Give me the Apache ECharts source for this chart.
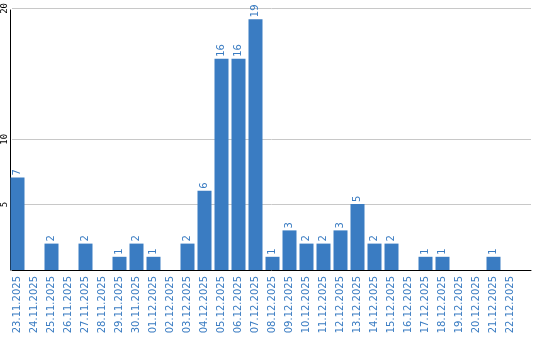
<!DOCTYPE html>
<html><head><meta charset="utf-8">
<script src="https://cdn.jsdelivr.net/npm/echarts@6/dist/echarts.min.js"></script>
<style>html,body{margin:0;padding:0;background:#fff}#c{width:540px;height:340px}</style>
</head><body><div id="c"></div>
<script>
const categories = ['23.11.2025','24.11.2025','25.11.2025','26.11.2025','27.11.2025','28.11.2025','29.11.2025','30.11.2025','01.12.2025','02.12.2025','03.12.2025','04.12.2025','05.12.2025','06.12.2025','07.12.2025','08.12.2025','09.12.2025','10.12.2025','11.12.2025','12.12.2025','13.12.2025','14.12.2025','15.12.2025','16.12.2025','17.12.2025','18.12.2025','19.12.2025','20.12.2025','21.12.2025','22.12.2025'];
const values = [7,0,2,0,2,0,1,2,1,0,2,6,16,16,19,1,3,2,2,3,5,2,2,0,1,1,0,0,1,0];
const yTickLabels = [5,10,20];

const blue = '#3a7cc2';
const chart = echarts.init(document.getElementById('c'), null, {renderer:'canvas'});
chart.setOption({
  animation:false,
  grid:[
    {left:9, top:6, width:510, height:264},
    {left:9, top:6, right:9, height:264},
    {left:10, top:10, right:9, height:260}
  ],
  xAxis:[
    {type:'category', gridIndex:0, data:categories,
     axisLine:{show:false}, axisTick:{show:false},
     axisLabel:{rotate:90, interval:0, color:blue, fontFamily:'DejaVu Sans', fontSize:10, margin:6}},
    {type:'value', gridIndex:1, min:0, max:1,
     axisLine:{show:true, lineStyle:{color:'#000', width:1}}, axisTick:{show:false},
     axisLabel:{show:false}, splitLine:{show:false}},
    {type:'value', gridIndex:2, min:0, max:1, show:false}
  ],
  yAxis:[
    {type:'value', gridIndex:0, min:0, max:20, interval:5,
     axisLine:{show:false}, axisTick:{show:false}, splitLine:{show:false},
     axisLabel:{show:false}},
    {type:'value', gridIndex:1, min:0, max:20, interval:5,
     axisLine:{show:false}, axisTick:{show:false},
     splitLine:{show:true, lineStyle:{color:['transparent','#c8c8c8','#c8c8c8','transparent','#c8c8c8'], width:1}},
     axisLabel:{rotate:90, margin:3, color:'#000', fontFamily:'DejaVu Sans Mono', fontSize:9,
       formatter:v => yTickLabels.includes(v) ? String(v) : ''}},
    {type:'value', gridIndex:2, min:0, max:1,
     axisLine:{show:true, lineStyle:{color:'#000', width:1}}, axisTick:{show:false},
     axisLabel:{show:false}, splitLine:{show:false}}
  ],
  series:[{
    type:'bar', xAxisIndex:0, yAxisIndex:0, data:values, barWidth:14,
    itemStyle:{color:blue},
    label:{show:true, position:'top', rotate:90, align:'left', verticalAlign:'middle', distance:2,
      color:blue, fontFamily:'DejaVu Sans', fontSize:10,
      formatter:p => p.value > 0 ? String(p.value) : ''}
  }]
});
</script></body></html>
